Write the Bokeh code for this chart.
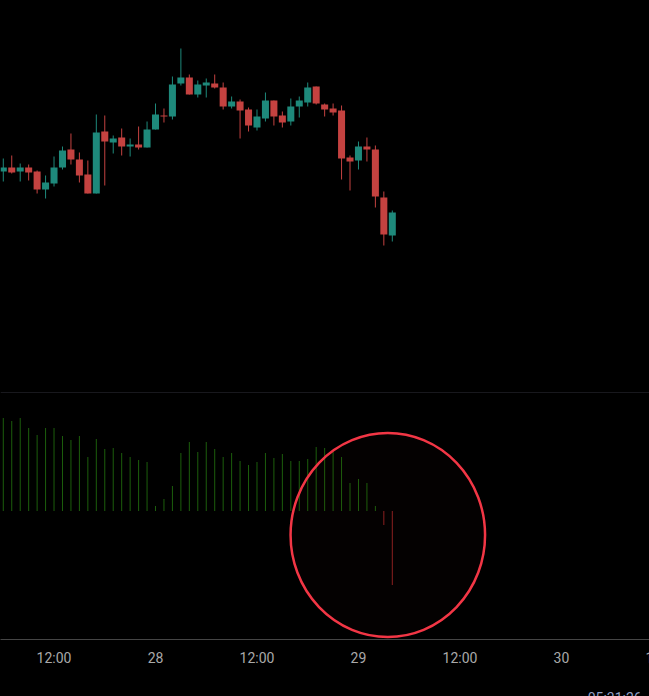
from bokeh.embed import file_html
from bokeh.layouts import column
from bokeh.models import ColumnDataSource, FixedTicker, LinearAxis, Range1d, Span
from bokeh.plotting import figure
from bokeh.resources import INLINE

high = [234,237,229,228,222,217,236,246,259,240,232,278,277,257,264,254,266,271,289,284,316,344,318,312,314,
        318,310,296,293,285,283,300,292,281,294,296,310,306,289,289,287,237,251,255,247,201,182]
body_top = [225,225,225,225,221,210,225,242,243,233,218,260,261,254,255,248,248,263,278,277,308,315,315,308,310,
            309,305,291,291,283,276,292,292,277,286,292,305,306,288,284,282,235,246,246,243,195,180]
body_bottom = [221,220,221,220,203,203,209,225,233,217,199,199,251,250,246,246,245,245,263,276,276,309,298,298,307,
               305,286,286,282,267,265,274,276,270,271,286,290,289,283,280,234,231,232,243,196,158,157]
low = [211,219,211,212,199,194,206,223,228,210,199,199,207,239,237,236,243,245,263,270,273,307,298,295,295,
       304,283,284,254,261,262,271,267,265,267,275,286,288,276,277,213,202,223,231,185,147,151]
rising = [1,0,1,0,0,1,1,1,0,0,0,1,0,1,0,1,0,1,1,0,1,1,0,1,1,
          0,0,1,0,0,1,1,0,0,1,1,1,0,0,0,0,0,1,0,0,0,1]
volume = [93,90,93,83,76,83,83,75,71,75,54,72,62,63,58,54,51,49,5,12,25,58,69,59,69,
          62,54,58,50,46,49,58,53,57,50,50,52,64,63,59,54,28,32,28,5,-14,-74]
tick_positions = [6, 18, 30, 42, 54, 66, 78]
tick_labels = ["12:00", "28", "12:00", "29", "12:00", "30", "12:00"]
clock_position = [72.3]
clock_label = ["05:31:26"]

UP, DOWN = "#1e897b", "#c44240"
BAR_UP, BAR_DOWN = "#1c5e0c", "#8a2020"
TEXT = "#a9a9a9"
x = list(range(len(high)))
colors = [UP if r else DOWN for r in rising]
bar_colors = [BAR_UP if v > 0 else BAR_DOWN for v in volume]
src = ColumnDataSource(dict(x=x, high=high, low=low, top=body_top, bottom=body_bottom, color=colors))
vsrc = ColumnDataSource(dict(x=x, v=volume, base=[0] * len(x), color=bar_colors))
xr = Range1d(-0.33, 80.08)


def pane(h, yr, bottom=0):
    f = figure(width=680, height=h, x_range=xr, y_range=yr, output_backend="svg", toolbar_location=None,
               background_fill_color="#000000", border_fill_color="#000000",
               min_border_left=0, min_border_right=0, min_border_top=0, min_border_bottom=bottom)
    f.grid.visible = False
    f.outline_line_color = None
    f.yaxis.visible = False
    return f


p1 = pane(393, Range1d(-1, 392))
p1.xaxis.visible = False
p1.segment("x", "low", "x", "high", color="color", line_width=1, source=src)
p1.vbar("x", 0.83, "bottom", "top", fill_color="color", line_color=None, source=src)
p1.add_layout(Span(location=-0.5, dimension="width", line_color="#30303a", line_width=1))

p2 = pane(346, Range1d(-128.5, 117.5), bottom=100)
p2.segment("x", "base", "x", "v", color="color", line_width=1, source=vsrc)
p2.ellipse(x=[45.47], y=[-24], width=[23.0], height=[204], fill_color="#f23645", fill_alpha=0.015,
           line_color="#f23645", line_width=2.5)
ax = p2.xaxis[0]
ax.ticker = FixedTicker(ticks=tick_positions)
ax.major_label_overrides = dict(zip(tick_positions, tick_labels))
ax.major_tick_line_color = None
ax.minor_tick_line_color = None
ax.axis_line_color = "#454545"
ax.major_label_text_color = TEXT
ax.major_label_text_font = "Roboto"
ax.major_label_text_font_size = "14px"
ax.major_label_standoff = 4

clock = LinearAxis(ticker=FixedTicker(ticks=clock_position),
                   major_label_overrides=dict(zip(clock_position, clock_label)))
clock.axis_line_color = None
clock.major_tick_line_color = None
clock.minor_tick_line_color = None
clock.major_label_text_color = "#8f9fc4"
clock.major_label_text_font = "Roboto"
clock.major_label_text_font_size = "14px"
clock.major_label_standoff = 15
p2.add_layout(clock, "below")

html = file_html(column(p1, p2, spacing=0), INLINE)
html = html.replace("<head>", "<head><style>html,body{margin:0!important;background:#000;overflow:hidden}</style>", 1)
open("out.html", "w").write(html)
